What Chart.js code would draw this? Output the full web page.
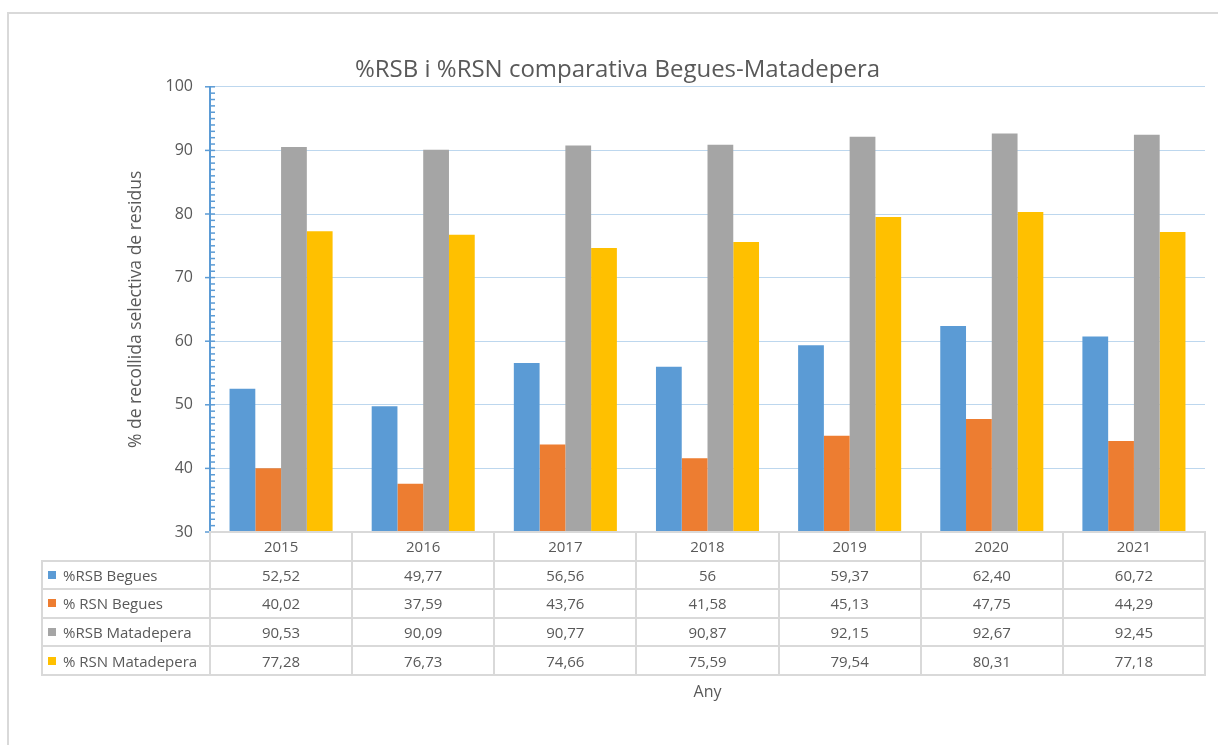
<!DOCTYPE html>
<html>
<head>
<meta charset="utf-8">
<script src="https://cdn.jsdelivr.net/npm/chart.js@4.4.1/dist/chart.umd.min.js"></script>
<style>
  html, body { margin: 0; padding: 0; background: #fff; overflow: hidden; width: 1218px; height: 745px; }
  #frame { position: absolute; left: 7px; top: 12px; width: 1300px; height: 800px; border: 2px solid #d9d9d9; }
  #chartCanvas { position: absolute; left: 0; top: 0; }
  #dataTable { position: absolute; left: 0; top: 0; font-family: "Open Sans", sans-serif; font-size: 15px; color: #595959; }
  #dataTable .cell { position: absolute; display: flex; align-items: center; justify-content: center; white-space: nowrap; }
  #dataTable .name { justify-content: flex-start; }
  #dataTable .key { display: inline-block; width: 8px; height: 8px; margin: 0 7px 0 6px; }
  #dataTable .line { position: absolute; background: #d9d9d9; }
</style>
</head>
<body>
<div id="frame"></div>
<canvas id="chartCanvas" width="1218" height="745"></canvas>
<div id="dataTable"></div>
<script>
// --- data ---
const years = ["2015", "2016", "2017", "2018", "2019", "2020", "2021"];
const rsbBegues = [52.52, 49.77, 56.56, 56, 59.37, 62.40, 60.72];
const rsnBegues = [40.02, 37.59, 43.76, 41.58, 45.13, 47.75, 44.29];
const rsbMatadepera = [90.53, 90.09, 90.77, 90.87, 92.15, 92.67, 92.45];
const rsnMatadepera = [77.28, 76.73, 74.66, 75.59, 79.54, 80.31, 77.18];
const seriesNames = ["%RSB Begues", "% RSN Begues", "%RSB Matadepera", "% RSN Matadepera"];

const seriesValues = [rsbBegues, rsnBegues, rsbMatadepera, rsnMatadepera];
const seriesColors = ["#5b9bd5", "#ed7d31", "#a5a5a5", "#ffc000"];
const textColor = "#595959";
const fontFamily = "'Open Sans', sans-serif";

// excel-style number: comma decimals, integers left bare
const fmt = v => Number.isInteger(v) ? String(v) : v.toFixed(2).replace(".", ",");

// blue axis ticks: majors cross the axis, minors only inside
const axisTicks = {
  id: "axisTicks",
  afterDraw(chart) {
    const y = chart.scales.y;
    const x0 = chart.chartArea.left;
    const ctx = chart.ctx;
    ctx.save();
    ctx.strokeStyle = "#5b9bd5";
    ctx.lineWidth = 1.5;
    for (let v = y.min; v <= y.max; v++) {
      const py = y.getPixelForValue(v);
      const major = v % 10 === 0;
      ctx.beginPath();
      ctx.moveTo(major ? x0 - 5 : x0, py);
      ctx.lineTo(x0 + 5, py);
      ctx.stroke();
    }
    ctx.restore();
  }
};

const canvas = document.getElementById("chartCanvas");
const chart = new Chart(canvas, {
  type: "bar",
  data: {
    labels: years,
    datasets: seriesNames.map((name, i) => ({
      label: name,
      data: seriesValues[i],
      backgroundColor: seriesColors[i],
      borderWidth: 0,
      categoryPercentage: 0.725,
      barPercentage: 1
    }))
  },
  options: {
    responsive: false,
    animation: false,
    layout: { padding: { left: 30, right: 13, top: 46, bottom: 0 } },
    plugins: {
      legend: { display: false },
      tooltip: { enabled: false },
      title: {
        display: true,
        text: "%RSB i %RSN comparativa Begues-Matadepera",
        color: textColor,
        font: { family: fontFamily, size: 24, weight: "normal" },
        padding: { top: 10, bottom: 2 }
      }
    },
    scales: {
      x: {
        grid: { display: false },
        border: { display: false },
        ticks: { display: false },
        title: {
          display: true,
          text: "Any",
          color: textColor,
          font: { family: fontFamily, size: 16 },
          padding: { top: 0, bottom: 43 }
        },
        afterFit: s => { s.height = 213; }
      },
      y: {
        min: 30,
        max: 100,
        ticks: {
          stepSize: 10,
          padding: 17,
          color: textColor,
          font: { family: fontFamily, size: 16 }
        },
        grid: { color: "#bdd7ee", lineWidth: 1, drawTicks: false },
        border: { color: "#5b9bd5", width: 2 },
        title: {
          display: true,
          text: "% de recollida selectiva de residus",
          color: textColor,
          font: { family: fontFamily, size: 17.5 },
          padding: { top: 96, bottom: 0 }
        },
        afterFit: s => { s.width = 180; }
      }
    }
  },
  plugins: [axisTicks]
});

// --- data table under the plot, aligned with the category scale ---
function buildTable() {
  const box = document.getElementById("dataTable");
  const area = chart.chartArea;
  const xs = chart.scales.x;
  const catW = (area.right - area.left) / years.length;
  const rowH = 28.6;
  const top = area.bottom;
  const tableLeft = 42;
  const lw = 2;

  const addLine = (x, y, w, h) => {
    const d = document.createElement("div");
    d.className = "line";
    Object.assign(d.style, { left: x + "px", top: y + "px", width: w + "px", height: h + "px" });
    box.appendChild(d);
  };
  const addCell = (x, y, w, h, html, cls) => {
    const d = document.createElement("div");
    d.className = "cell" + (cls ? " " + cls : "");
    Object.assign(d.style, { left: x + "px", top: y + "px", width: w + "px", height: h + "px" });
    d.innerHTML = html;
    box.appendChild(d);
  };

  // header row
  years.forEach((yr, i) => {
    const cx = xs.getPixelForValue(i);
    addCell(cx - catW / 2, top, catW, rowH, yr);
  });
  // series rows
  seriesNames.forEach((name, j) => {
    const ry = top + rowH * (j + 1);
    addCell(tableLeft, ry, area.left - tableLeft, rowH,
      `<span class="key" style="background:${seriesColors[j]}"></span>${name}`, "name");
    seriesValues[j].forEach((v, i) => {
      const cx = xs.getPixelForValue(i);
      addCell(cx - catW / 2, ry, catW, rowH, fmt(v));
    });
  });

  // grid lines
  const bottom = top + rowH * (seriesNames.length + 1);
  addLine(area.left - lw / 2, top - lw / 2, area.right - area.left + lw, lw);
  for (let k = 1; k <= seriesNames.length + 1; k++) {
    addLine(tableLeft - lw / 2, top + rowH * k - lw / 2, area.right - tableLeft + lw, lw);
  }
  addLine(tableLeft - lw / 2, top + rowH - lw / 2, lw, bottom - top - rowH + lw / 2);
  for (let i = 0; i <= years.length; i++) {
    addLine(area.left + catW * i - lw / 2, top - lw / 2, lw, bottom - top + lw / 2);
  }
}
buildTable();
</script>
</body>
</html>
